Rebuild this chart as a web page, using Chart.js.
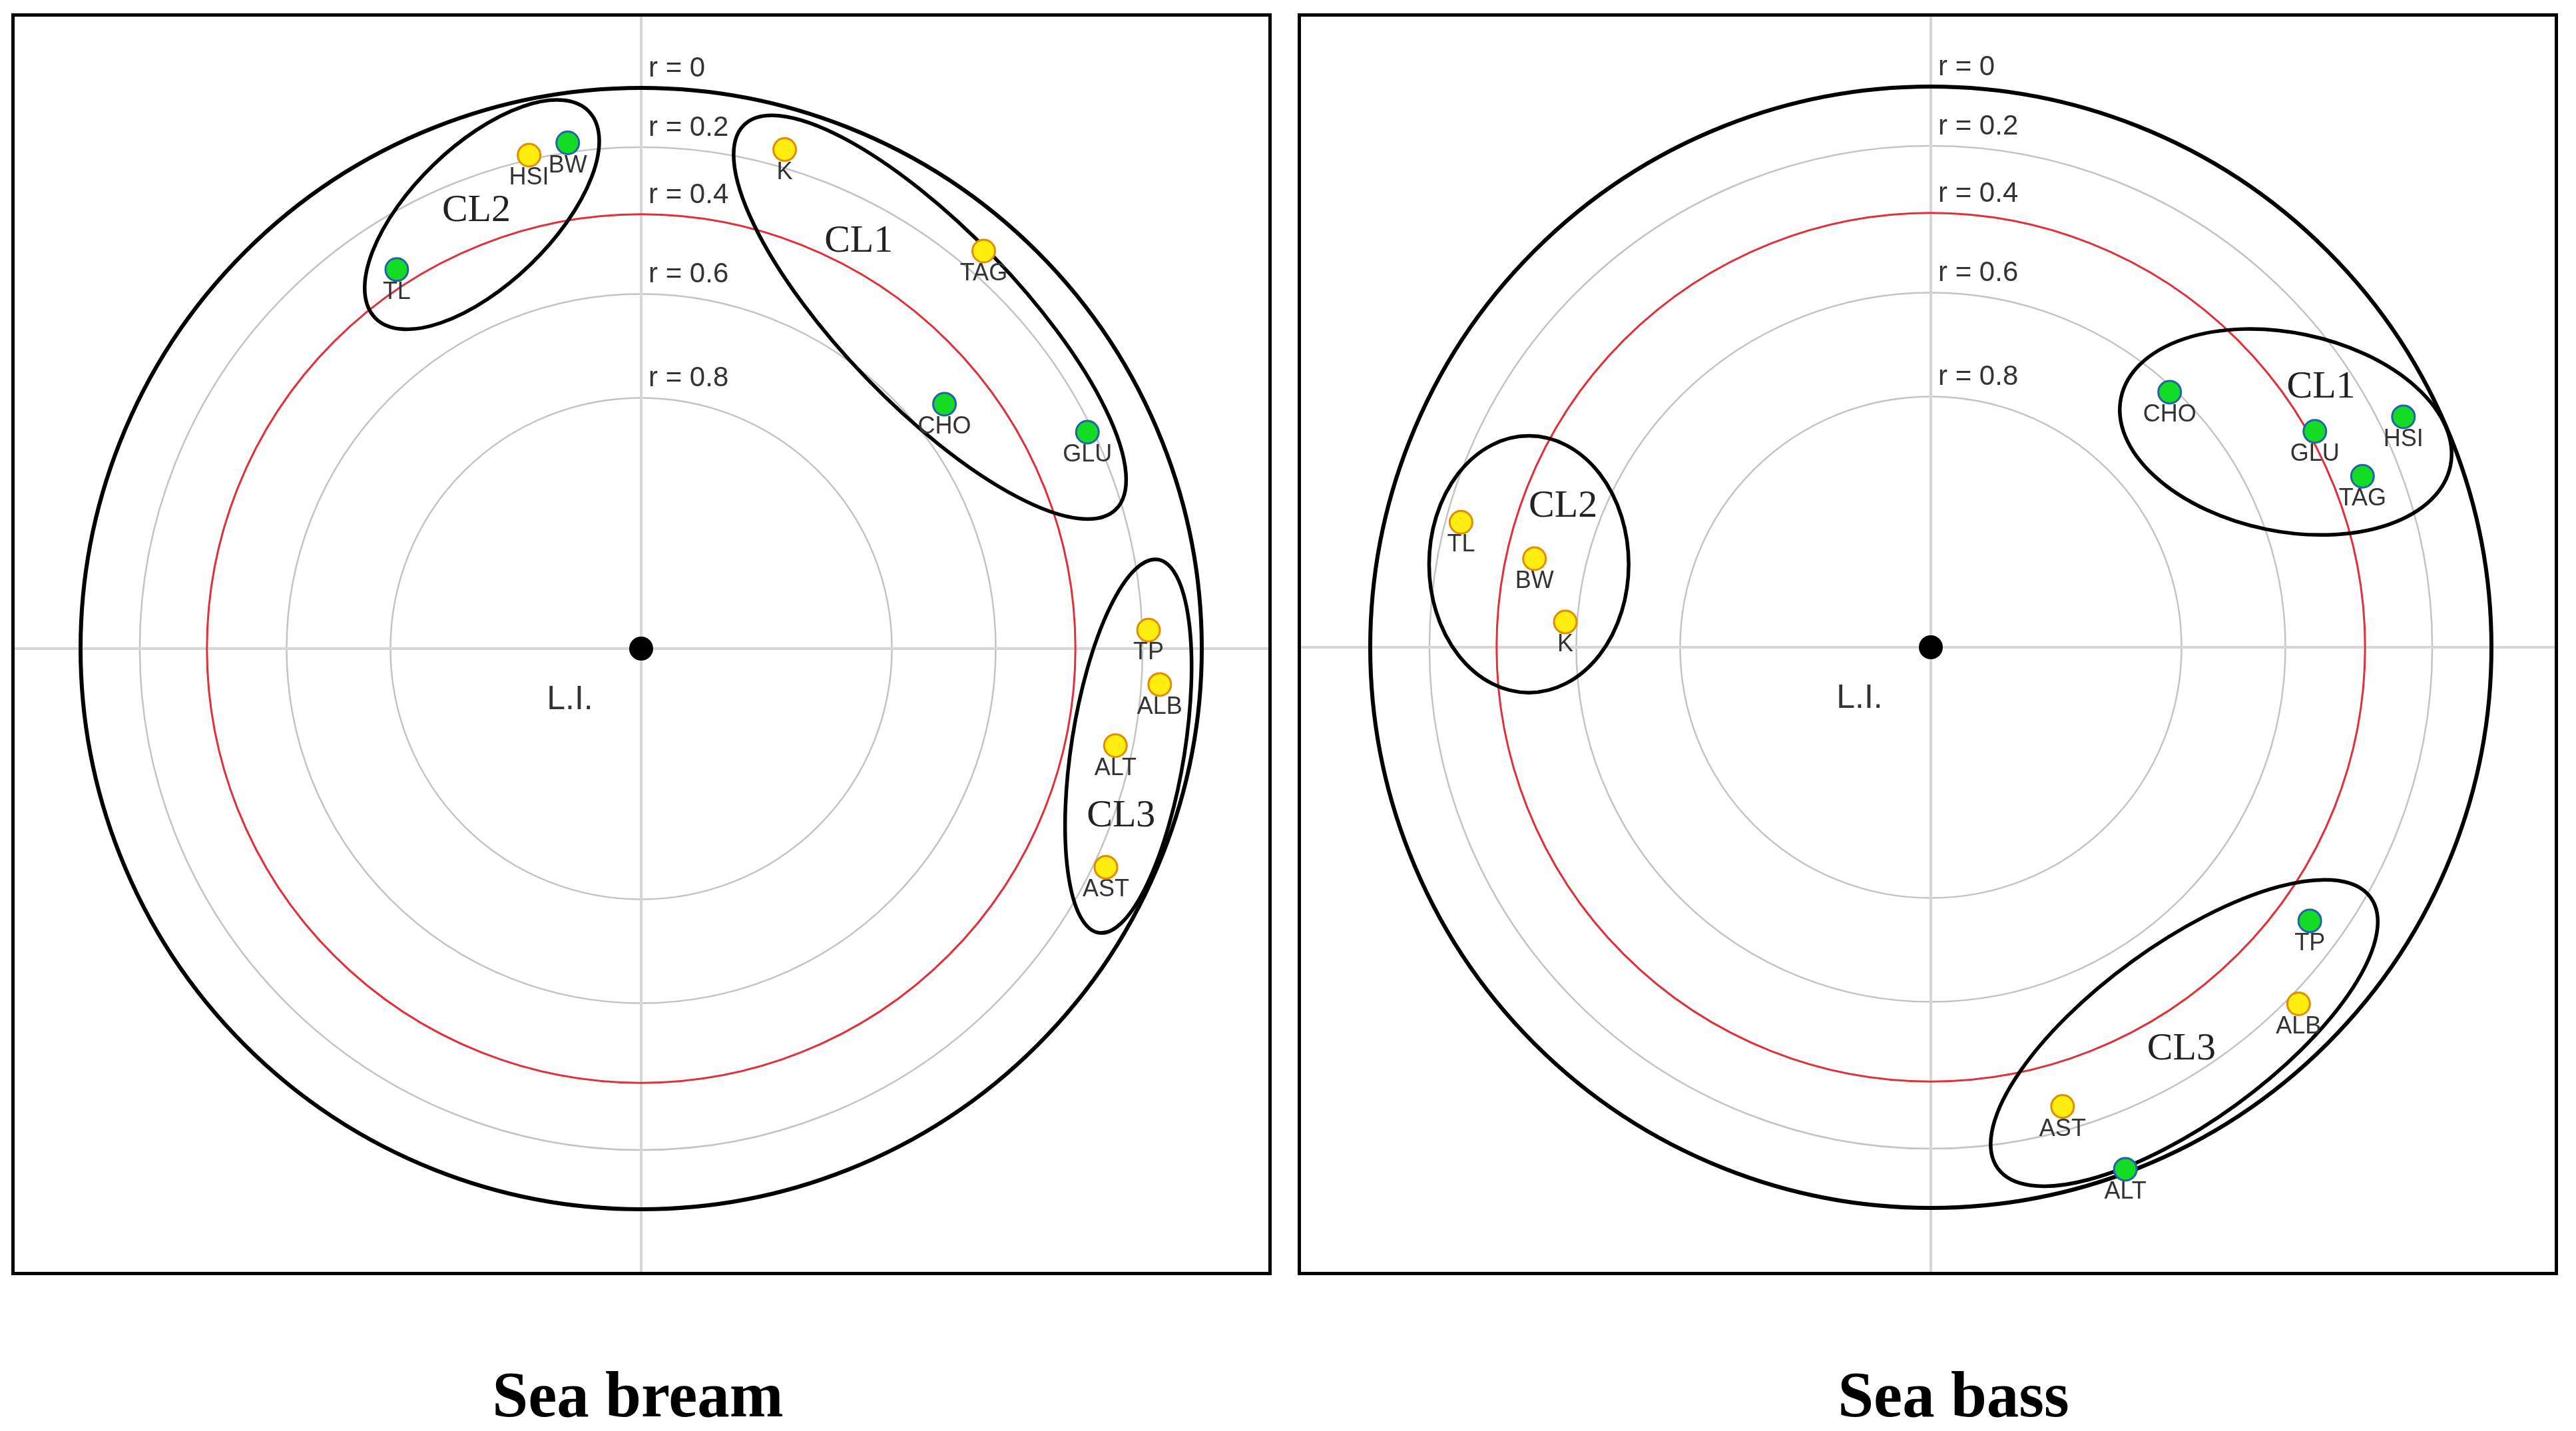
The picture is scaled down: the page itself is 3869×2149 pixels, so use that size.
<!DOCTYPE html>
<html>
<head>
<meta charset="utf-8">
<script src="https://cdn.jsdelivr.net/npm/chart.js@4.4.0/dist/chart.umd.min.js"></script>
<style>
  html, body { margin: 0; padding: 0; background: #fff; overflow: hidden; }
  body { width: 3869px; height: 2149px; position: relative; }
  .panel { position: absolute; top: 20px; }
  #leftPanel { left: 17px; }
  #rightPanel { left: 1949px; }
  #titles { position: absolute; left: 0; top: 1930px; width: 3869px; height: 219px; overflow: hidden; }
  .title {
    position: absolute; top: 116px; height: 97px;
    font: bold 97px/97px "Liberation Serif", "Times New Roman", serif;
    color: #000; transform: translateX(-50%); white-space: nowrap;
  }
</style>
</head>
<body>
<div class="panel" id="leftPanel"><canvas id="bream" width="1893" height="1895"></canvas></div>
<div class="panel" id="rightPanel"><canvas id="bass" width="1893" height="1895"></canvas></div>
<div id="titles">
  <div class="title" style="left:958px">Sea bream</div>
  <div class="title" style="left:2934px">Sea bass</div>
</div>

<script>
// -------------------------------
// DATA
// -------------------------------
// rings: distance from centre = sqrt(1 - r)
const rLevels = [0, 0.2, 0.4, 0.6, 0.8];
const rTickLabels = ['r = 0', 'r = 0.2', 'r = 0.4', 'r = 0.6', 'r = 0.8'];
const rThreshold = 0.4;
const centerLabel = 'L.I.';

// Sea bream
const breamYellowLabels = ['HSI', 'K', 'TAG', 'TP', 'ALB', 'ALT', 'AST'];
const breamYellowX = [-0.200, 0.256, 0.611, 0.905, 0.925, 0.846, 0.829];
const breamYellowY = [0.880, 0.890, 0.709, 0.033, -0.064, -0.173, -0.390];
const breamGreenLabels = ['BW', 'TL', 'CHO', 'GLU'];
const breamGreenX = [-0.131, -0.436, 0.541, 0.796];
const breamGreenY = [0.902, 0.676, 0.436, 0.386];

const breamClusters = ['CL1', 'CL2', 'CL3'];
const breamClusterX = [0.515, -0.284, 0.869];
const breamClusterY = [0.591, 0.774, -0.174];
const breamClusterA = [0.477, 0.265, 0.337];
const breamClusterB = [0.157, 0.124, 0.101];
const breamClusterAngle = [-46, 44, 81];
const breamClusterLabelX = [0.388, -0.294, 0.856];
const breamClusterLabelY = [0.726, 0.781, -0.299];

// Sea bass
const bassYellowLabels = ['TL', 'BW', 'K', 'ALB', 'AST'];
const bassYellowX = [-0.838, -0.707, -0.652, 0.656, 0.235];
const bassYellowY = [0.223, 0.158, 0.045, -0.636, -0.819];
const bassGreenLabels = ['CHO', 'GLU', 'HSI', 'TAG', 'TP', 'ALT'];
const bassGreenX = [0.426, 0.685, 0.843, 0.770, 0.676, 0.347];
const bassGreenY = [0.455, 0.385, 0.411, 0.305, -0.488, -0.931];

const bassClusters = ['CL1', 'CL2', 'CL3'];
const bassClusterX = [0.633, -0.717, 0.452];
const bassClusterY = [0.384, 0.148, -0.688];
const bassClusterA = [0.300, 0.229, 0.411];
const bassClusterB = [0.177, 0.178, 0.158];
const bassClusterAngle = [-11.7, 90, 36];
const bassClusterLabelX = [0.696, -0.656, 0.447];
const bassClusterLabelY = [0.463, 0.251, -0.717];

// -------------------------------
// LAYOUT
// -------------------------------
const UNIT = 842; // pixels for radius 1 (r = 0)

function toPoints(xs, ys) {
    return xs.map((x, i) => ({ x: x, y: ys[i] }));
}

// background: rings, axes, ellipses, texts
const polarPlugin = {
    id: 'polar',
    beforeDatasetsDraw(chart) {
        const { ctx, chartArea: area, scales: { x, y } } = chart;
        const cl = chart.options.plugins.polar;
        const cx = x.getPixelForValue(0);
        const cy = y.getPixelForValue(0);
        const unit = x.getPixelForValue(1) - cx;
        const rho = r => Math.sqrt(1 - r) * unit;

        ctx.save();

        // gray rings
        ctx.strokeStyle = '#c4c4c4';
        ctx.lineWidth = 2.5;
        rLevels.forEach(r => {
            if (r === rThreshold || r === 0) return;
            ctx.beginPath();
            ctx.arc(cx, cy, rho(r), 0, Math.PI * 2);
            ctx.stroke();
        });

        // axes
        ctx.strokeStyle = '#d6d6d6';
        ctx.lineWidth = 4;
        ctx.beginPath();
        ctx.moveTo(area.left, cy); ctx.lineTo(area.right, cy);
        ctx.moveTo(cx, area.top); ctx.lineTo(cx, area.bottom);
        ctx.stroke();

        // threshold ring
        ctx.strokeStyle = '#e0303a';
        ctx.lineWidth = 3;
        ctx.beginPath();
        ctx.arc(cx, cy, rho(rThreshold), 0, Math.PI * 2);
        ctx.stroke();

        // outer ring r = 0
        ctx.strokeStyle = '#000';
        ctx.lineWidth = 6;
        ctx.beginPath();
        ctx.arc(cx, cy, rho(0), 0, Math.PI * 2);
        ctx.stroke();

        // cluster ellipses
        ctx.lineWidth = 5.5;
        cl.names.forEach((n, i) => {
            ctx.beginPath();
            ctx.ellipse(x.getPixelForValue(cl.cx[i]), y.getPixelForValue(cl.cy[i]),
                cl.a[i] * unit, cl.b[i] * unit, -cl.angle[i] * Math.PI / 180, 0, Math.PI * 2);
            ctx.stroke();
        });

        // cluster names
        ctx.fillStyle = '#222';
        ctx.font = '58px "Liberation Serif", "Times New Roman", serif';
        ctx.textAlign = 'center';
        ctx.textBaseline = 'middle';
        cl.names.forEach((n, i) => {
            ctx.fillText(n, x.getPixelForValue(cl.lx[i]), y.getPixelForValue(cl.ly[i]));
        });

        // r tick labels
        ctx.fillStyle = '#333';
        ctx.font = '42px "Liberation Sans", Arial, sans-serif';
        ctx.textAlign = 'left';
        ctx.textBaseline = 'alphabetic';
        rLevels.forEach((r, i) => {
            ctx.fillText(rTickLabels[i], cx + 11, cy - rho(r) - 17);
        });

        ctx.font = '50px "Liberation Sans", Arial, sans-serif';
        ctx.textAlign = 'center';
        ctx.fillText(centerLabel, cx - 107, cy + 91);

        // point labels, under the dots
        ctx.font = '36px "Liberation Sans", Arial, sans-serif';
        ctx.fillStyle = '#333';
        chart.data.datasets.forEach((ds, di) => {
            if (!ds.names) return;
            chart.getDatasetMeta(di).data.forEach((pt, j) => {
                ctx.fillText(ds.names[j], pt.x, pt.y + 44);
            });
        });

        ctx.restore();
    },
    afterDraw(chart) {
        const { ctx, width, height } = chart;
        ctx.save();
        ctx.strokeStyle = '#000';
        ctx.lineWidth = 5;
        ctx.strokeRect(2.5, 2.5, width - 5, height - 5);
        ctx.restore();
    }
};

function makeChart(id, center, yellow, green, clusters) {
    const canvas = document.getElementById(id);
    const w = canvas.width, h = canvas.height;
    return new Chart(canvas, {
        type: 'scatter',
        data: {
            datasets: [
                {
                    data: [{ x: 0, y: 0 }],
                    pointRadius: 18,
                    backgroundColor: '#000',
                    borderWidth: 0
                },
                {
                    names: yellow.labels,
                    data: toPoints(yellow.x, yellow.y),
                    pointRadius: 17,
                    borderWidth: 3,
                    backgroundColor: '#ffee10',
                    borderColor: '#e38c00'
                },
                {
                    names: green.labels,
                    data: toPoints(green.x, green.y),
                    pointRadius: 17,
                    borderWidth: 3,
                    backgroundColor: '#12dd24',
                    borderColor: '#2263aa'
                }
            ]
        },
        options: {
            responsive: false,
            animation: false,
            devicePixelRatio: 1,
            layout: { padding: 0, autoPadding: false },
            plugins: {
                legend: { display: false },
                tooltip: { enabled: false },
                polar: clusters
            },
            scales: {
                x: { type: 'linear', display: false, min: -center[0] / UNIT, max: (w - center[0]) / UNIT },
                y: { type: 'linear', display: false, min: -(h - center[1]) / UNIT, max: center[1] / UNIT }
            }
        },
        plugins: [polarPlugin]
    });
}

makeChart('bream', [946, 954],
    { labels: breamYellowLabels, x: breamYellowX, y: breamYellowY },
    { labels: breamGreenLabels, x: breamGreenX, y: breamGreenY },
    { names: breamClusters, cx: breamClusterX, cy: breamClusterY, a: breamClusterA, b: breamClusterB,
      angle: breamClusterAngle, lx: breamClusterLabelX, ly: breamClusterLabelY });

makeChart('bass', [951, 952],
    { labels: bassYellowLabels, x: bassYellowX, y: bassYellowY },
    { labels: bassGreenLabels, x: bassGreenX, y: bassGreenY },
    { names: bassClusters, cx: bassClusterX, cy: bassClusterY, a: bassClusterA, b: bassClusterB,
      angle: bassClusterAngle, lx: bassClusterLabelX, ly: bassClusterLabelY });
</script>
</body>
</html>
